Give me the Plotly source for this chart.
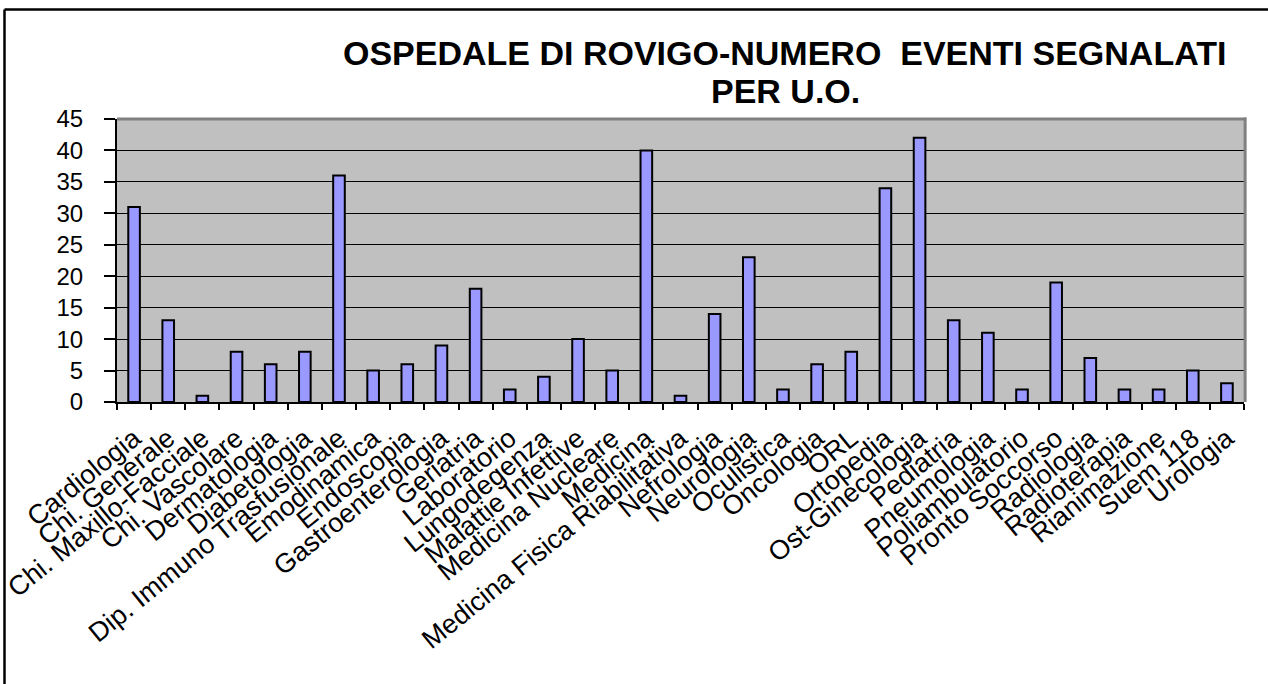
import plotly.graph_objects as go

categories = [
    "Cardiologia", "Chi. Generale", "Chi. Maxillo-Facciale", "Chi. Vascolare",
    "Dermatologia", "Diabetologia", "Dip. Immuno Trasfusionale", "Emodinamica",
    "Endoscopia", "Gastroenterologia", "Geriatria", "Laboratorio", "Lungodegenza",
    "Malattie Infettive", "Medicina Nucleare", "Medicina",
    "Medicina Fisica Riabilitativa", "Nefrologia", "Neurologia", "Oculistica",
    "Oncologia", "ORL", "Ortopedia", "Ost-Ginecologia", "Pediatria",
    "Pneumologia", "Poliambulatorio", "Pronto Soccorso", "Radiologia",
    "Radioterapia", "Rianimazione", "Suem 118", "Urologia",
]
eventi = [31, 13, 1, 8, 6, 8, 36, 5, 6, 9, 18, 2, 4, 10, 5, 40, 1, 14, 23, 2,
          6, 8, 34, 42, 13, 11, 2, 19, 7, 2, 2, 5, 3]
y_ticks = [0, 5, 10, 15, 20, 25, 30, 35, 40, 45]

title_line1 = "OSPEDALE DI ROVIGO-NUMERO  EVENTI SEGNALATI"
title_line2 = "PER U.O."

W, H = 1268, 684
L, R, T, B = 117, 24, 119, 282
pw, ph = W - L - R, H - T - B


def px_x(x):
    return (x - L) / pw


def px_y(y):
    return (H - B - y) / ph


font_family = "Liberation Sans, Arial, sans-serif"

fig = go.Figure(
    go.Bar(
        x=categories,
        y=eventi,
        marker=dict(color="#9999FF", line=dict(color="black", width=2)),
    )
)

fig.update_layout(
    width=W,
    height=H,
    margin=dict(l=L, r=R, t=T, b=B, pad=0),
    paper_bgcolor="white",
    plot_bgcolor="#C0C0C0",
    bargap=0.66,
    showlegend=False,
    font=dict(family=font_family, color="black"),
    annotations=[
        dict(text="<b>" + title_line1 + "</b>", xref="paper", yref="paper",
             x=px_x(784), y=px_y(53), xanchor="center", yanchor="middle",
             showarrow=False, font=dict(size=34, family=font_family, color="black")),
        dict(text="<b>" + title_line2 + "</b>", xref="paper", yref="paper",
             x=px_x(785), y=px_y(91), xanchor="center", yanchor="middle",
             showarrow=False, font=dict(size=34, family=font_family, color="black")),
    ],
    shapes=[
        # plot area grey border (top and right)
        dict(type="line", xref="paper", yref="paper", x0=0, x1=1.002, y0=1, y1=1,
             line=dict(color="#808080", width=3), layer="above"),
        dict(type="line", xref="paper", yref="paper", x0=1.001, x1=1.001, y0=0, y1=1.005,
             line=dict(color="#808080", width=3), layer="above"),
        # outer chart border (top and left)
        dict(type="line", xref="paper", yref="paper", x0=px_x(4.5), x1=px_x(1275),
             y0=px_y(9.5), y1=px_y(9.5), line=dict(color="black", width=2.5)),
        dict(type="line", xref="paper", yref="paper", x0=px_x(4.5), x1=px_x(4.5),
             y0=px_y(9.5), y1=px_y(700), line=dict(color="black", width=2.5)),
    ],
)

fig.update_xaxes(
    type="category",
    tickangle=-39,
    tickfont=dict(size=27, family=font_family, color="black"),
    ticks="outside",
    ticklen=6,
    tickwidth=1.5,
    tickcolor="black",
    tickson="boundaries",
    ticklabelstandoff=8,
    showline=True,
    linecolor="black",
    linewidth=2,
    showgrid=False,
    automargin=False,
)

fig.update_yaxes(
    range=[0, 45],
    tickvals=y_ticks,
    tickfont=dict(size=24, family=font_family, color="black"),
    ticks="outside",
    ticklen=11,
    tickwidth=1.5,
    tickcolor="black",
    ticklabelstandoff=16,
    showline=True,
    linecolor="black",
    linewidth=2,
    showgrid=True,
    gridcolor="black",
    gridwidth=1,
    zeroline=False,
    automargin=False,
)

fig.write_html(
    "out.html",
    config={"displayModeBar": False},
    post_script="document.body.style.margin='0px';",
)
